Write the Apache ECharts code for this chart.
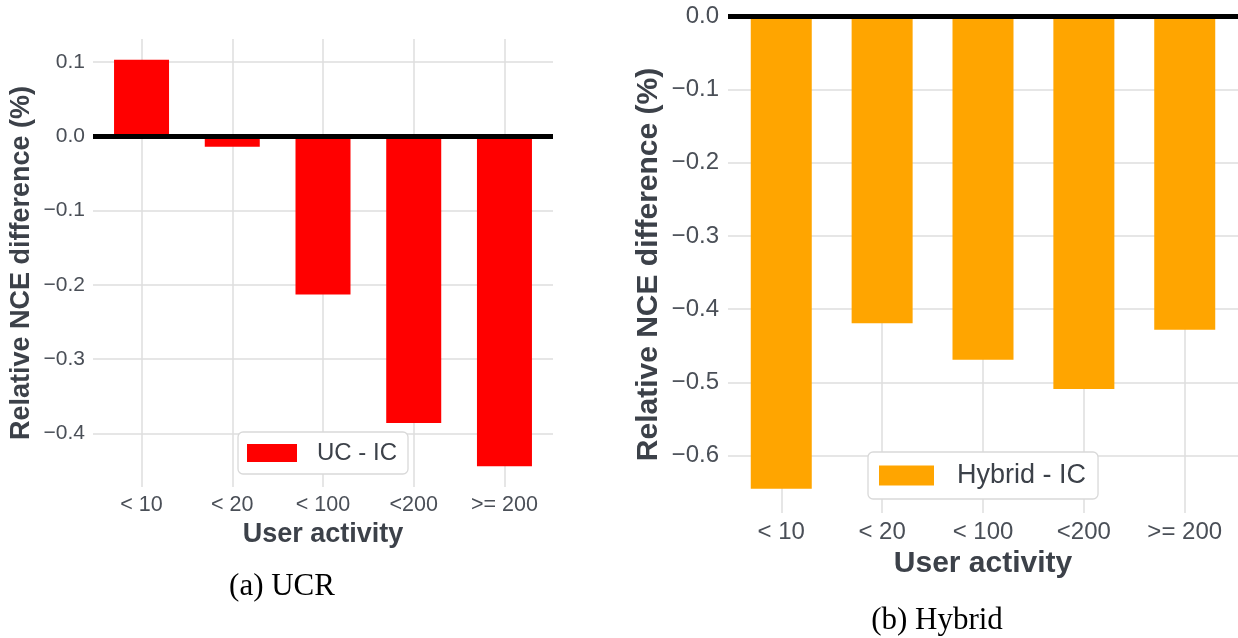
<!DOCTYPE html>
<html>
<head>
<meta charset="utf-8">
<script src="https://cdn.jsdelivr.net/npm/echarts@6/dist/echarts.min.js"></script>
<style>
html,body{margin:0;padding:0;background:#fff;}
#chart{width:1238px;height:638px;}
</style>
</head>
<body>
<div id="chart"></div>
<script>
// ---- data ----
const categories = ['< 10', '< 20', '< 100', '<200', '>= 200'];
const ucValues = [0.103, -0.014, -0.213, -0.386, -0.444];
const hybridValues = [-0.645, -0.419, -0.469, -0.509, -0.428];
const ucTicks = [-0.4, -0.3, -0.2, -0.1, 0.0, 0.1];
const hybridTicks = [-0.6, -0.5, -0.4, -0.3, -0.2, -0.1, 0.0];
const catTicks = [0, 1, 2, 3, 4];
const ucName = 'UC - IC';
const hybridName = 'Hybrid - IC';
const xTitle = 'User activity';
const yTitle = 'Relative NCE difference (%)';
const captionA = '(a) UCR';
const captionB = '(b) Hybrid';

const FONT = '"Liberation Sans", Arial, sans-serif';
const TICK_COLOR = '#4a4f57';
const TITLE_COLOR = '#3c4149';
const GRID_COLOR = '#dedede';

function fmtY(v) {
  if (Math.abs(v) < 1e-9) return '0.0';
  return v.toFixed(1).replace('-', '\u2212');
}

function xAxisCfg(gridIndex, fs, titleFs, nameGap, min, max) {
  return {
    type: 'value', gridIndex: gridIndex, min: min, max: max,
    name: xTitle, nameLocation: 'middle', nameGap: nameGap,
    nameTextStyle: {fontFamily: FONT, fontSize: titleFs, fontWeight: 'bold', color: TITLE_COLOR},
    axisLine: {show: false},
    axisTick: {show: false, customValues: catTicks},
    axisLabel: {customValues: catTicks, fontFamily: FONT, fontSize: fs, color: TICK_COLOR, margin: 7,
      formatter: v => categories[Math.round(v)]},
    splitLine: {show: true, lineStyle: {color: GRID_COLOR, width: 1.5}}
  };
}
function yAxisCfg(gridIndex, fs, titleFs, nameGap, min, max, ticks, margin) {
  return {
    type: 'value', gridIndex: gridIndex, min: min, max: max,
    name: yTitle, nameLocation: 'middle', nameGap: nameGap, nameRotate: 90,
    nameTextStyle: {fontFamily: FONT, fontSize: titleFs, fontWeight: 'bold', color: TITLE_COLOR},
    axisLine: {show: false},
    axisTick: {show: false, customValues: ticks},
    axisLabel: {customValues: ticks, fontFamily: FONT, fontSize: fs, color: TICK_COLOR, margin: margin,
      formatter: fmtY},
    splitLine: {show: true, lineStyle: {color: GRID_COLOR, width: 1.5}}
  };
}
function zeroLine() {
  return {
    silent: true, symbol: 'none', label: {show: false},
    lineStyle: {color: '#000', width: 5, type: 'solid'},
    emphasis: {disabled: true},
    data: [{yAxis: 0}]
  };
}
function legendCfg(name, left, top, fs, itemW, itemH, pad, spacer) {
  return {
    data: [name], left: left, top: top, orient: 'horizontal',
    backgroundColor: '#ffffff', borderColor: '#d9d9d9', borderWidth: 1.3, borderRadius: 5,
    padding: pad, itemWidth: itemW, itemHeight: itemH, icon: 'rect',
    formatter: n => '{s|}{n|' + n + '}',
    textStyle: {fontFamily: FONT, fontSize: fs, color: TITLE_COLOR,
      rich: {s: {width: spacer}, n: {fontFamily: FONT, fontSize: fs, color: TITLE_COLOR}}},
    selectedMode: false
  };
}

const option = {
  backgroundColor: '#ffffff',
  animation: false,
  grid: [
    {left: 93, top: 39, width: 460, height: 448, containLabel: false},
    {left: 728, top: 16, width: 510, height: 497, containLabel: false}
  ],
  xAxis: [
    xAxisCfg(0, 21.5, 27, 31, -0.535, 4.535),
    xAxisCfg(1, 24, 30, 34, -0.528, 4.528)
  ],
  yAxis: [
    yAxisCfg(0, 21, 27, 58, -0.472, 0.131, ucTicks, 8),
    yAxisCfg(1, 24, 30, 64, -0.678, 0, hybridTicks, 9)
  ],
  legend: [
    legendCfg(ucName, 238, 432, 24, 50, 18, [9, 11, 9, 9], 15),
    legendCfg(hybridName, 868, 452, 27, 55, 20, [10, 12, 10, 11], 18)
  ],
  series: [
    {name: ucName, type: 'bar', xAxisIndex: 0, yAxisIndex: 0, barWidth: 55,
      itemStyle: {color: '#ff0000'},
      data: ucValues.map((v, i) => [i, v]), markLine: zeroLine()},
    {name: hybridName, type: 'bar', xAxisIndex: 1, yAxisIndex: 1, barWidth: 61,
      itemStyle: {color: '#ffa500'},
      data: hybridValues.map((v, i) => [i, v]), markLine: zeroLine()}
  ],
  graphic: [
    {type: 'text', x: 282, y: 587, silent: true,
      style: {text: captionA, font: '31px "Liberation Serif", "Times New Roman", serif', fill: '#000',
        textAlign: 'center', textVerticalAlign: 'middle'}},
    {type: 'text', x: 937, y: 621, silent: true,
      style: {text: captionB, font: '31px "Liberation Serif", "Times New Roman", serif', fill: '#000',
        textAlign: 'center', textVerticalAlign: 'middle'}}
  ]
};

const chart = echarts.init(document.getElementById('chart'), null, {renderer: 'canvas'});
chart.setOption(option);
</script>
</body>
</html>
